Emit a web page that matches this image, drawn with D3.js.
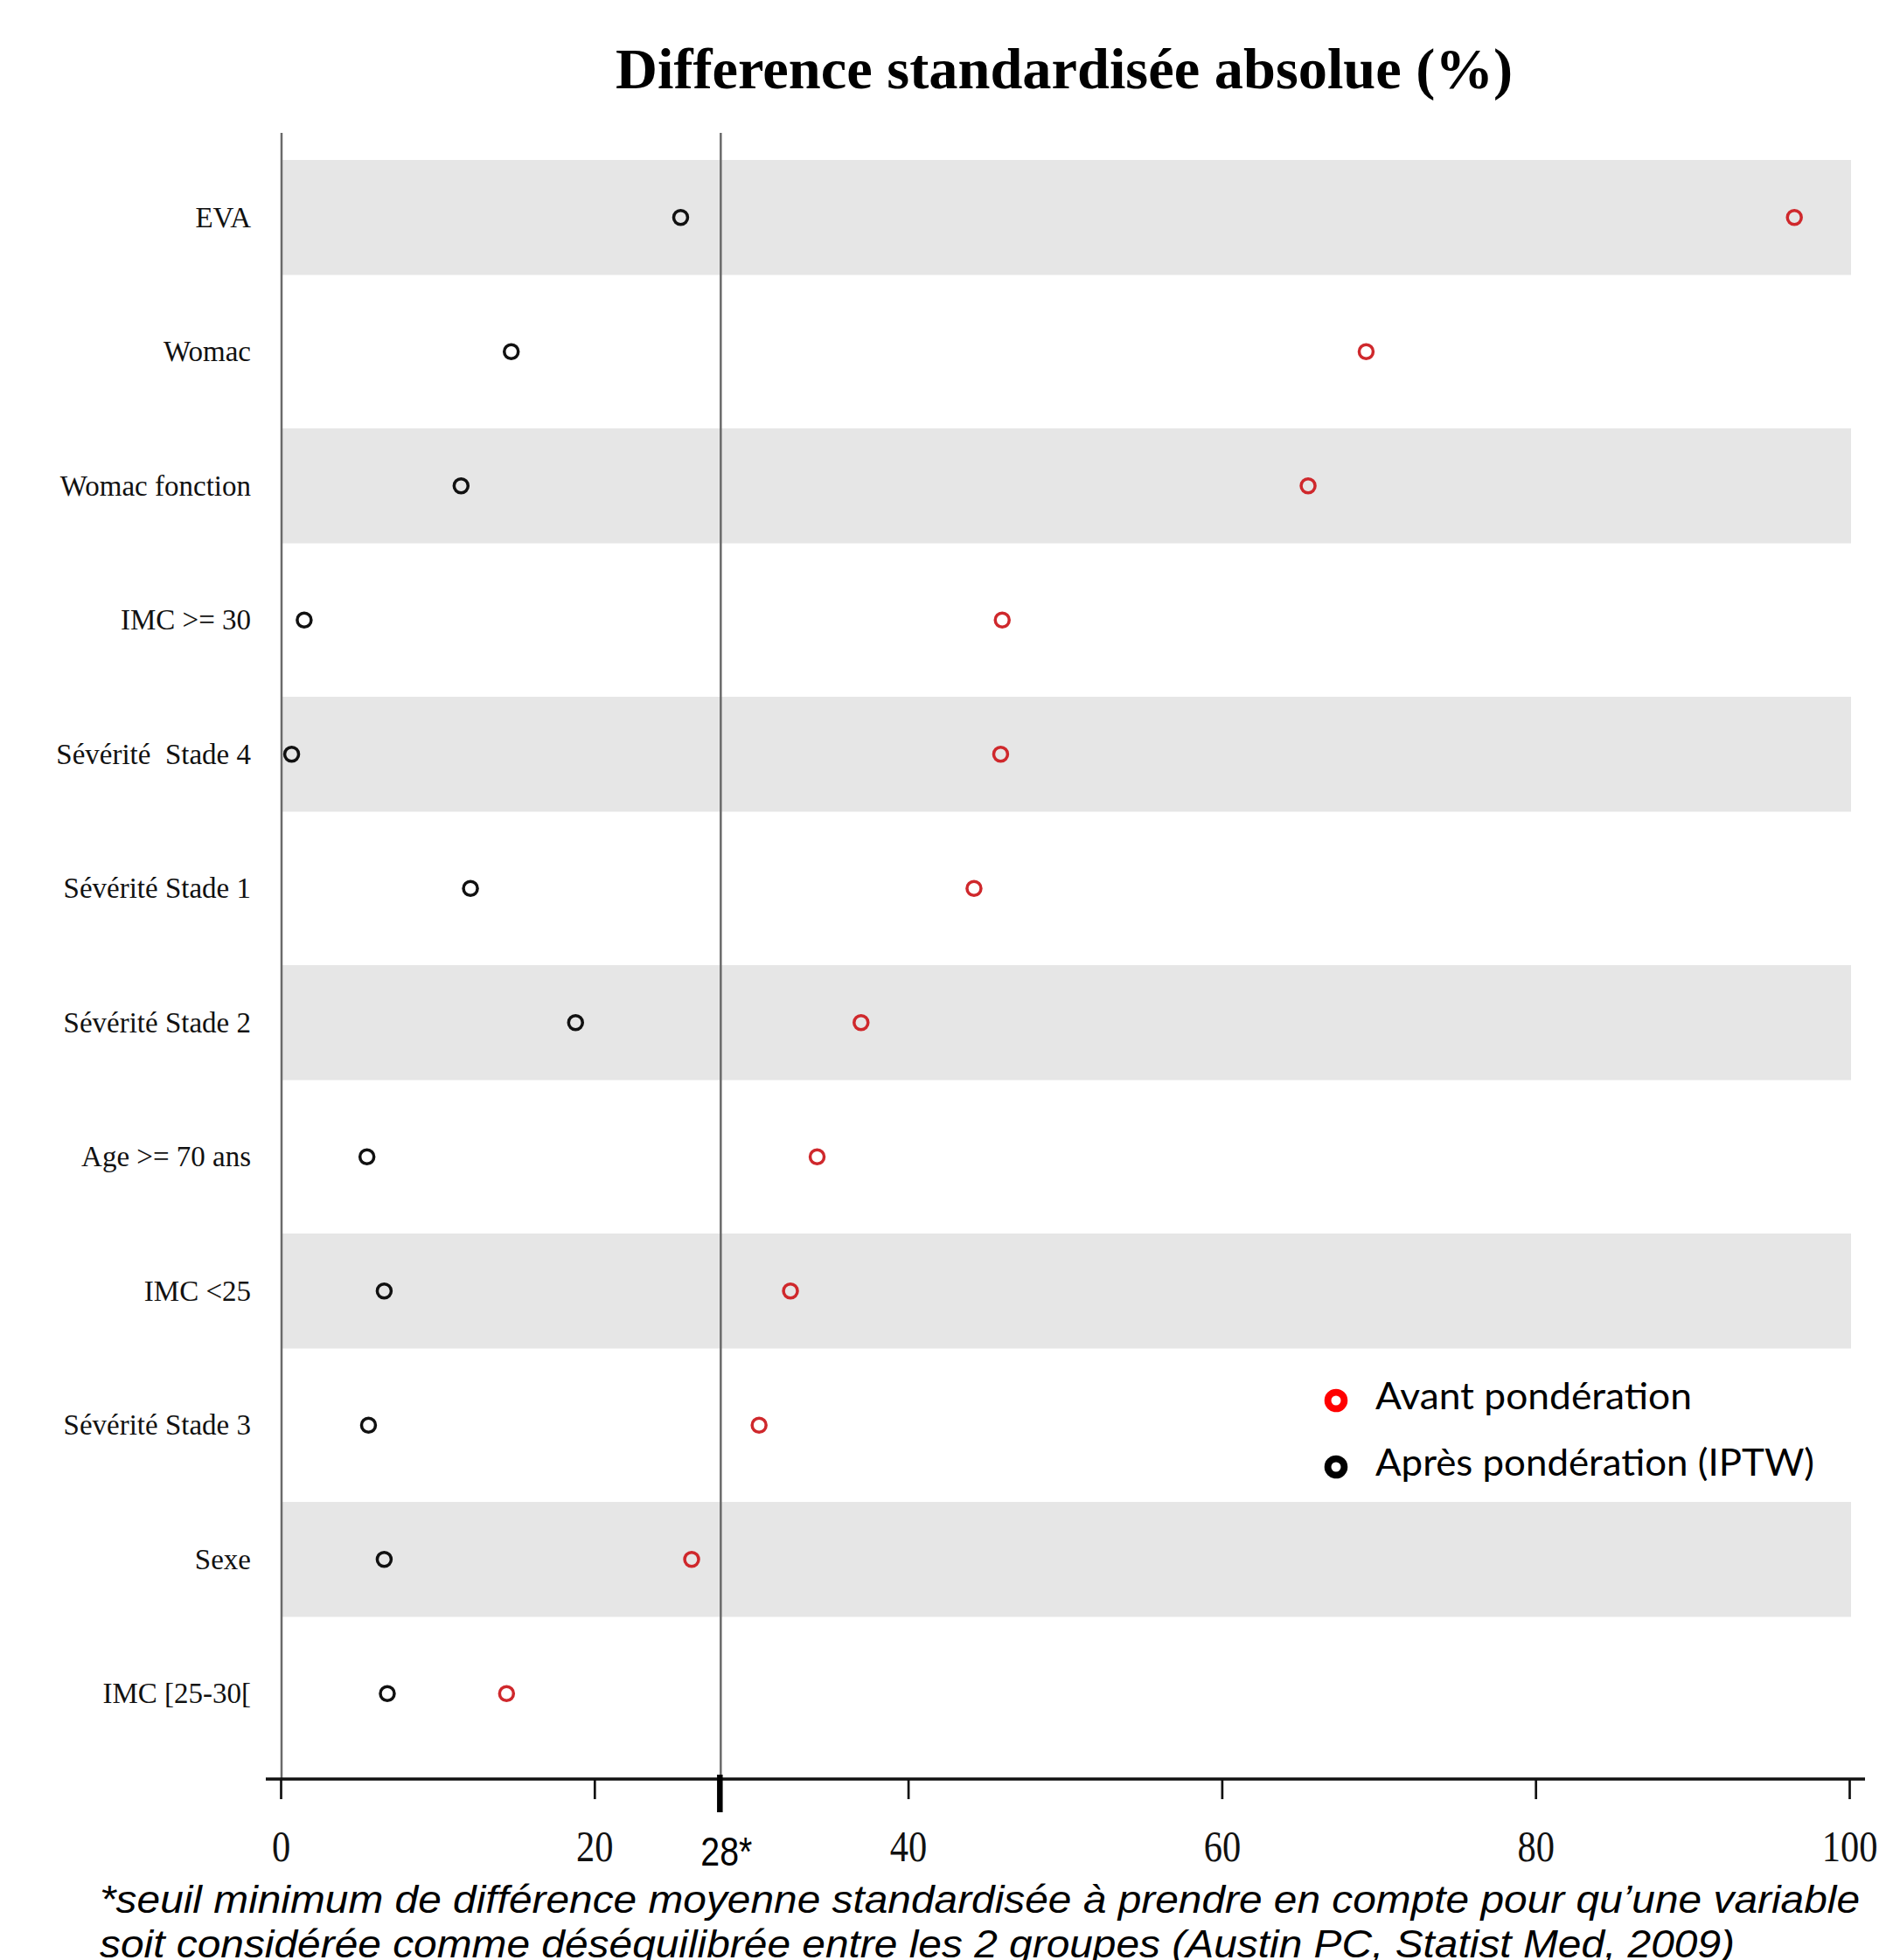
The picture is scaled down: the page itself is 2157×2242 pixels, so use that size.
<!DOCTYPE html>
<html>
<head>
<meta charset="utf-8">
<script src="https://cdn.jsdelivr.net/npm/d3@7"></script>
<style>
  body { margin: 0; background: #ffffff; }
  text { white-space: pre; }
</style>
</head>
<body>
<div id="canvas"></div>
<script>
//variables, from top to bottom
var variables = ['EVA', 'Womac', 'Womac fonction', 'IMC >= 30', 'Sévérité  Stade 4',
  'Sévérité Stade 1', 'Sévérité Stade 2', 'Age >= 70 ans', 'IMC <25',
  'Sévérité Stade 3', 'Sexe', 'IMC [25-30['];

//absolute standardised difference (%) before weighting
var avant = [96.5, 69.2, 65.5, 46.0, 45.9, 44.2, 37.0, 34.2, 32.5, 30.5, 26.2, 14.4];

//after weighting (IPTW)
var apres = [25.5, 14.7, 11.5, 1.5, 0.7, 12.1, 18.8, 5.5, 6.6, 5.6, 6.6, 6.8];

var xTicks = [0, 20, 40, 60, 80, 100];
var seuil = 28;

var legendLabels = ['Avant pondération', 'Après pondération (IPTW)'];
var footnote = [
  '*seuil minimum de différence moyenne standardisée à prendre en compte pour qu\u2019une variable',
  'soit considérée comme déséquilibrée entre les 2 groupes (Austin PC, Statist Med, 2009)'
];

//canvas
var cv = {
  'width': 2157,
  'height': 2242,
  'axisY': 2035,
  'lineTop': 152
};

var red = '#cf282c';

var x = d3.scaleLinear()
  .domain([0, 100])
  .range([321, 2115]);

var y = d3.scaleBand()
  .domain(variables)
  .range([172, 2014])
  .paddingInner(0.143)
  .paddingOuter(0.0715);

var svg = d3.select('#canvas').append('svg')
  .attr('width', cv.width)
  .attr('height', cv.height);

//title
svg.append('text')
  .attr('x', 704)
  .attr('y', 101)
  .attr('textLength', 1026)
  .attr('lengthAdjust', 'spacingAndGlyphs')
  .attr('font-family', '"Liberation Serif", "Times New Roman", serif')
  .attr('font-weight', 'bold')
  .attr('font-size', 65)
  .text('Difference standardisée absolue (%)');

//grey bands on every other row
svg.selectAll('.band')
  .data(variables.filter((d, i) => i % 2 == 0))
  .enter().append('rect')
  .attr('class', 'band')
  .attr('x', x(0) + 1)
  .attr('y', d => y(d))
  .attr('width', x(100) - x(0) + 1)
  .attr('height', y.bandwidth())
  .attr('fill', '#e6e6e6');

//vertical lines at 0 and at the threshold
svg.selectAll('.vline')
  .data([0, seuil])
  .enter().append('line')
  .attr('class', 'vline')
  .attr('x1', d => x(d) + 1)
  .attr('x2', d => x(d) + 1)
  .attr('y1', cv.lineTop)
  .attr('y2', cv.axisY)
  .attr('stroke', '#6a6a6a')
  .attr('stroke-width', 2.5);

//row labels
svg.selectAll('.label')
  .data(variables)
  .enter().append('text')
  .attr('class', 'label')
  .attr('x', 287)
  .attr('y', d => y(d) + y.bandwidth() / 2 + 11)
  .attr('text-anchor', 'end')
  .attr('font-family', '"Liberation Serif", "Times New Roman", serif')
  .attr('font-size', 33)
  .attr('fill', '#111')
  .text(d => d);

//bottom axis
var xAxis = d3.axisBottom(x)
  .tickValues(xTicks)
  .tickSize(23)
  .tickSizeOuter(0);

var gx = svg.append('g')
  .attr('transform', 'translate(0,' + cv.axisY + ')')
  .call(xAxis);

gx.select('.domain').remove();
gx.selectAll('.tick line')
  .attr('stroke', '#111')
  .attr('stroke-width', 2.7);
gx.selectAll('.tick text')
  .attr('y', 94)
  .attr('dy', 0)
  .attr('fill', '#111')
  .attr('font-family', '"Liberation Serif", "Times New Roman", serif')
  .attr('font-size', 50)
  .attr('textLength', function() { return this.getComputedTextLength() * 0.85; })
  .attr('lengthAdjust', 'spacingAndGlyphs');

gx.append('line')
  .attr('x1', x.range()[0] - 17)
  .attr('x2', x.range()[1] + 18)
  .attr('y1', 0)
  .attr('y2', 0)
  .attr('stroke', '#111')
  .attr('stroke-width', 3.5);

//threshold tick and label
gx.append('line')
  .attr('x1', x(seuil))
  .attr('x2', x(seuil))
  .attr('y1', -5)
  .attr('y2', 38)
  .attr('stroke', '#000')
  .attr('stroke-width', 6.5);

gx.append('text')
  .attr('x', x(seuil) - 22)
  .attr('y', 99)
  .attr('text-anchor', 'start')
  .attr('textLength', 59)
  .attr('lengthAdjust', 'spacingAndGlyphs')
  .attr('font-family', '"Liberation Sans", Arial, sans-serif')
  .attr('font-size', 47)
  .attr('fill', '#000')
  .text(seuil + '*');

//points after weighting
svg.selectAll('.apres')
  .data(apres)
  .enter().append('circle')
  .attr('class', 'apres')
  .attr('cx', d => x(d))
  .attr('cy', (d, i) => y(variables[i]) + y.bandwidth() / 2)
  .attr('r', 8)
  .attr('fill', 'none')
  .attr('stroke', '#111')
  .attr('stroke-width', 3.5);

//points before weighting
svg.selectAll('.avant')
  .data(avant)
  .enter().append('circle')
  .attr('class', 'avant')
  .attr('cx', d => x(d))
  .attr('cy', (d, i) => y(variables[i]) + y.bandwidth() / 2)
  .attr('r', 8)
  .attr('fill', 'none')
  .attr('stroke', red)
  .attr('stroke-width', 3.5);

//legend
var legend = svg.append('g')
  .attr('transform', 'translate(1528,1602)');

legend.selectAll('circle')
  .data(legendLabels)
  .enter().append('circle')
  .attr('cx', 0)
  .attr('cy', (d, i) => i * 76)
  .attr('r', 9.4)
  .attr('fill', 'none')
  .attr('stroke', (d, i) => i == 0 ? '#ff0000' : '#000')
  .attr('stroke-width', 7.8);

legend.selectAll('text')
  .data(legendLabels)
  .enter().append('text')
  .attr('x', 45)
  .attr('y', (d, i) => i * 76 + 10)
  .attr('textLength', (d, i) => i == 0 ? 362 : 502)
  .attr('lengthAdjust', 'spacingAndGlyphs')
  .attr('font-family', 'Lato, "Open Sans", sans-serif')
  .attr('font-size', 42)
  .attr('fill', '#000')
  .text(d => d);

//footnote
svg.selectAll('.note')
  .data(footnote)
  .enter().append('text')
  .attr('class', 'note')
  .attr('x', 114)
  .attr('y', (d, i) => 2188 + i * 51)
  .attr('textLength', (d, i) => i == 0 ? 2013 : 1870)
  .attr('lengthAdjust', 'spacingAndGlyphs')
  .attr('font-family', '"Liberation Sans", Arial, sans-serif')
  .attr('font-style', 'italic')
  .attr('font-size', 44)
  .attr('fill', '#000')
  .text(d => d);
</script>
</body>
</html>
